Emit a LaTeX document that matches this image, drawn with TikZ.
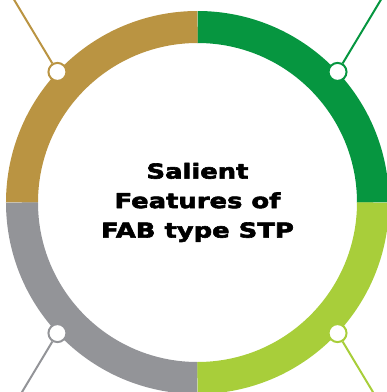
\documentclass[tikz,border=0pt]{standalone}
\usepackage{fontspec}
\newfontfamily\titlefont{DejaVu Sans}[BoldFeatures={FakeBold=3,FakeStretch=1.26}]
\definecolor{ringgold}{RGB}{186,148,66}
\definecolor{ringgreen}{RGB}{6,150,64}
\definecolor{ringlime}{RGB}{168,206,58}
\definecolor{ringgray}{RGB}{147,148,152}
\tikzset{
  segment/.style={line width=32pt, line cap=butt},
  knob/.style={circle, draw=#1, fill=white, line width=2pt, minimum size=18pt, inner sep=0pt},
  stalk/.style={draw=#1, line width=2pt}
}
\begin{document}
\begin{tikzpicture}[x=1pt, y=1pt, line join=round]
	\def\rmid{175.5}\def\rout{191.5}
	\useasboundingbox (-197.5,-189.5) rectangle (189.5,202.5);
	% ring
	\draw[segment, ringgreen] (0,\rmid) arc (90:0:\rmid);
	\draw[segment, ringgold] (0,\rmid) arc (90:180:\rmid);
	\draw[segment, ringgray] (-\rmid,0) arc (180:270:\rmid);
	\draw[segment, ringlime] (0,-\rmid) arc (270:360:\rmid);
	% knobs and stalks
	\node[knob=ringgold] (kgold) at (137:\rout) {};
	\node[knob=ringgreen] (kgreen) at (43:\rout) {};
	\node[knob=ringgray] (kgray) at (223:\rout) {};
	\node[knob=ringlime] (klime) at (317:\rout) {};
	\coordinate (egold) at ([shift={(121:90)}]kgold.center);
	\coordinate (egreen) at ([shift={(59:90)}]kgreen.center);
	\coordinate (egray) at ([shift={(239:90)}]kgray.center);
	\coordinate (elime) at ([shift={(301:90)}]klime.center);
	\draw[stalk=ringgold] (kgold) -- (egold);
	\draw[stalk=ringgreen] (kgreen) -- (egreen);
	\draw[stalk=ringgray] (kgray) -- (egray);
	\draw[stalk=ringlime] (klime) -- (elime);
	% title
	\node[align=center, font=\titlefont\bfseries\fontsize{20.5}{29.5}\selectfont] (title) at (0,0) {Salient\\Features of\\FAB type STP};
\end{tikzpicture}
\end{document}
